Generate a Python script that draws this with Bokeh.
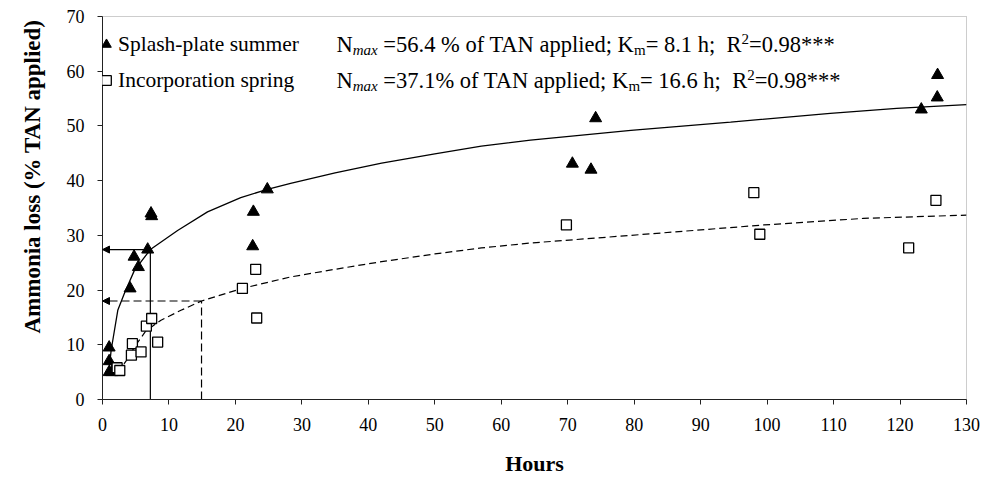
from bokeh.plotting import figure
from bokeh.models import Range1d, Label, Arrow, NormalHead, Legend, LegendItem, Title
from bokeh.embed import file_html
from bokeh.resources import INLINE

# ---------------- data ----------------
splash_hours = [1.0, 1.0, 1.0, 1.4, 4.15, 4.75, 5.4, 6.8, 7.3, 7.4, 22.6, 22.7, 24.8,
                70.7, 73.5, 74.2, 123.2, 125.6, 125.65]
splash_loss = [9.5, 7.0, 5.0, 5.0, 20.3, 26.1, 24.2, 27.4, 34.0, 33.5, 28.0, 34.3, 38.4,
               43.1, 42.0, 51.4, 53.0, 55.2, 59.3]

incorp_hours = [2.2, 2.6, 4.35, 4.5, 5.8, 6.6, 7.4, 8.3, 21.05, 23.05, 23.2,
                69.8, 98.0, 98.9, 121.3, 125.4]
incorp_loss = [5.8, 5.3, 8.1, 10.2, 8.7, 13.4, 14.8, 10.5, 20.3, 23.8, 14.9,
               31.9, 37.8, 30.2, 27.7, 36.4]

splash_fit_hours = [1.0, 1.3, 2.3, 3.3, 4.8, 7.2, 11.3, 15.8, 20.8, 24.8, 28.3, 35, 42,
                    50, 57, 64.4, 79.5, 94.5, 109.5, 119.5, 130]
splash_fit_loss = [5.5, 9.0, 16.3, 19.4, 23.6, 27.4, 30.9, 34.3, 36.9, 38.4, 39.5, 41.4, 43.2,
                   44.9, 46.3, 47.4, 49.2, 50.7, 52.3, 53.2, 53.9]

incorp_fit_hours = [2.0, 3.0, 4.0, 4.8, 6.5, 8.8, 11.8, 14.9, 21.0, 28.3, 35, 42, 50, 57,
                    64.4, 79.5, 99.5, 114.5, 130]
incorp_fit_loss = [5.2, 6.1, 7.8, 9.6, 12.5, 14.5, 16.3, 18.0, 20.3, 22.4, 23.8, 25.2, 26.6, 27.7,
                   28.6, 30.0, 31.9, 33.1, 33.7]

km_hours = [7.2, 14.9]          # drop lines (solid, dashed)
half_loss = [27.4, 18.0]

x_ticks = list(range(0, 131, 10))
y_ticks = list(range(0, 71, 10))

series_labels = ["Splash-plate summer", "Incorporation spring"]
eq_values = [("=56.4 % of TAN applied; K", "= 8.1 h;"),
             ("=37.1% of TAN applied; K", "= 16.6 h;")]

# ---------------- layout ----------------
W, H = 982, 481
ML, MR, MT, MB = 102, 16, 16, 82
FW, FH = W - ML - MR, H - MT - MB
XMAX, YMAX = 130, 70
XS, YS = FW / XMAX, FH / YMAX   # px per unit

FONT = "Liberation Serif"

p = figure(width=W, height=H, x_range=Range1d(0, XMAX), y_range=Range1d(0, YMAX),
           output_backend="svg", toolbar_location=None,
           min_border_left=ML, min_border_right=MR, min_border_top=MT, min_border_bottom=MB)
p.background_fill_color = "white"
p.border_fill_color = "white"
p.grid.visible = False
p.outline_line_color = "#9a9a9a"
p.outline_line_dash = "1 1"
p.outline_line_width = 1

for ax, ticks in ((p.xaxis, x_ticks), (p.yaxis, y_ticks)):
    ax.ticker = ticks
    ax.major_tick_out = 5
    ax.major_tick_in = 0
    ax.minor_tick_line_color = None
    ax.axis_line_color = "#222222"
    ax.major_tick_line_color = "#222222"
    ax.major_label_text_font = FONT
    ax.major_label_text_font_size = "18px"
    ax.major_label_text_color = "black"
    ax.major_label_standoff = 13

p.xaxis.axis_label = "Hours"
p.xaxis.axis_label_standoff = 17
p.xaxis.axis_label_text_font = FONT
p.xaxis.axis_label_text_font_size = "22px"
p.xaxis.axis_label_text_font_style = "bold"
p.xaxis.axis_label_text_color = "black"

# y title on the left, shifted upwards like the reference
p.add_layout(Title(text="Ammonia loss (% TAN applied)", align="left", offset=66,
                   vertical_align="top", standoff=34, text_font=FONT,
                   text_font_size="23px", text_font_style="bold", text_color="black"), "left")

# fitted curves
p.line(splash_fit_hours, splash_fit_loss, line_color="black", line_width=1.3)
p.line(incorp_fit_hours, incorp_fit_loss, line_color="black", line_width=1.2, line_dash="7 4")

# drop lines and arrows
p.segment(x0=[km_hours[0]], y0=[0], x1=[km_hours[0]], y1=[half_loss[0]],
          line_color="black", line_width=1.2)
p.segment(x0=[km_hours[1]], y0=[0], x1=[km_hours[1]], y1=[half_loss[1]],
          line_color="black", line_width=1.2, line_dash="8 4")
p.add_layout(Arrow(end=NormalHead(size=7, fill_color="black", line_color="black"),
                   x_start=km_hours[0], y_start=half_loss[0], x_end=0, y_end=half_loss[0],
                   line_color="black", line_width=1.2))
p.add_layout(Arrow(end=NormalHead(size=7, fill_color="black", line_color="black"),
                   x_start=km_hours[1], y_start=half_loss[1], x_end=0, y_end=half_loss[1],
                   line_color="black", line_width=1.2, line_dash="8 4"))

# data points
tri = p.scatter(splash_hours, splash_loss, marker="triangle", size=12,
                fill_color="black", line_color="black")
sq = p.scatter(incorp_hours, incorp_loss, marker="square", size=10,
               fill_color="white", line_color="black", line_width=1.3)

# legend
leg = Legend(items=[LegendItem(label=series_labels[0], renderers=[tri]),
                    LegendItem(label=series_labels[1], renderers=[sq])],
             location=(-8, 306), padding=0, margin=0, spacing=10,
             glyph_width=24, glyph_height=26, label_height=26, label_standoff=0,
             label_text_font=FONT, label_text_font_size="21.5px", label_text_color="black",
             border_line_color=None, background_fill_alpha=0)
p.add_layout(leg)

# equation texts with subscripts / superscripts
REG = {' ': 250, '%': 833, '*': 500, '.': 250, ';': 278, '=': 564, 'A': 722, 'K': 722,
       'N': 722, 'R': 667, 'T': 611, 'a': 444, 'd': 500, 'e': 444, 'f': 333, 'h': 500,
       'i': 278, 'l': 278, 'm': 778, 'o': 500, 'p': 500, 'x': 500}
ITA = {'m': 722, 'a': 500, 'x': 444}
for dch in "0123456789":
    REG[dch] = 500


def width(s, size, italic=False):
    tab = ITA if italic else REG
    return sum(tab.get(c, 500) for c in s) / 1000.0 * size


BIG, SMALL = 22.5, 15
line_centers_px = [44, 80]   # page px from top
eq_left_px = 336 - ML
for (v1, v2), cy in zip(eq_values, line_centers_px):
    segs = [("N", BIG, 0, False, 0),
            ("max", SMALL, 5.5, True, 0),
            (v1, BIG, 0, False, width(" ", BIG)),
            ("m", SMALL, 5.5, False, -2),
            (v2, BIG, 0, False, 0),
            ("R", BIG, 0, False, width("  ", BIG)),
            ("2", SMALL, -5.5, False, 0),
            ("=0.98***", BIG, 0, False, 0)]
    xpx = eq_left_px
    for text, size, dy, italic, gap in segs:
        xpx += gap
        ypx = (cy - MT) + dy
        p.add_layout(Label(x=xpx / XS, y=YMAX - ypx / YS, text=text,
                           text_font=FONT, text_font_size=f"{size}px",
                           text_font_style="italic" if italic else "normal",
                           text_baseline="middle", text_align="left", text_color="black"))
        xpx += width(text, size, italic)

open("out.html", "w").write(file_html(p, INLINE))
